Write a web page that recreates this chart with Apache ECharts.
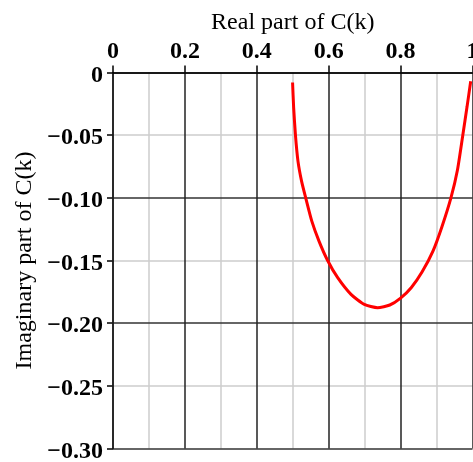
<!DOCTYPE html>
<html>
<head>
<meta charset="utf-8">
<script src="https://cdn.jsdelivr.net/npm/echarts@6/dist/echarts.min.js"></script>
<style>
html,body{margin:0;padding:0;background:#fff;}
#chart{width:473px;height:462px;}
</style>
</head>
<body>
<div id="chart"></div>
<script>
var realPart = [0.4995, 0.5025, 0.5075, 0.5145, 0.5245, 0.536, 0.553, 0.573, 0.597, 0.625, 0.662, 0.699, 0.736, 0.770, 0.800, 0.830, 0.860, 0.890, 0.915, 0.940, 0.958, 0.973, 0.985, 0.995];
var imagPart = [-0.008, -0.028, -0.050, -0.0707, -0.0867, -0.100, -0.1186, -0.1345, -0.150, -0.1637, -0.177, -0.185, -0.1876, -0.1855, -0.180, -0.1715, -0.159, -0.1425, -0.123, -0.100, -0.078, -0.050, -0.027, -0.007];
var xTickValues = [0, 0.2, 0.4, 0.6, 0.8, 1];
var xTickLabels = ['0', '0.2', '0.4', '0.6', '0.8', '1'];
var yTickValues = [0, -0.05, -0.10, -0.15, -0.20, -0.25, -0.30];
var yTickLabels = ['0', '\u22120.05', '\u22120.10', '\u22120.15', '\u22120.20', '\u22120.25', '\u22120.30'];

function lookup(values, labels, v) {
  for (var i = 0; i < values.length; i++) {
    if (Math.abs(values[i] - v) < 1e-6) return labels[i];
  }
  return '';
}

var seriesData = realPart.map(function (x, i) { return [x, imagPart[i]]; });

var chart = echarts.init(document.getElementById('chart'), null, {renderer: 'canvas'});
var serif = '"Liberation Serif", "Times New Roman", serif';
chart.setOption({
  animation: false,
  backgroundColor: '#fff',
  grid: {left: 113, top: 72.5, width: 359.5, height: 376, containLabel: false, outerBoundsMode: 'none'},
  xAxis: [{
    type: 'value', position: 'top', min: 0, max: 1, interval: 0.2, offset: 4,
    name: 'Real part of C(k)', nameLocation: 'middle', nameGap: 32,
    nameTextStyle: {fontFamily: serif, fontSize: 24, color: '#000'},
    axisLine: {show: true, lineStyle: {color: '#000', width: 1.5}},
    axisTick: {show: true, inside: false, length: 7, lineStyle: {color: '#000', width: 1.5}},
    axisLabel: {show: true, margin: 5, fontFamily: serif, fontSize: 24, fontWeight: 'bold', color: '#000',
      formatter: function (v) { return lookup(xTickValues, xTickLabels, v); }},
    splitLine: {show: true, lineStyle: {color: '#222', width: 1.5}},
    z: 3
  }, {
    type: 'value', position: 'top', min: 0, max: 1, interval: 0.1,
    axisLine: {show: false}, axisTick: {show: false}, axisLabel: {show: false},
    splitLine: {show: true, lineStyle: {color: ['rgba(0,0,0,0)', '#cccccc'], width: 1.5}},
    z: 1
  }],
  yAxis: [{
    type: 'value', min: -0.30, max: 0, interval: 0.05,
    name: 'Imaginary part of C(k)', nameLocation: 'middle', nameGap: 71,
    nameTextStyle: {fontFamily: serif, fontSize: 24, color: '#000'},
    axisLine: {show: true, lineStyle: {color: '#000', width: 1.5}},
    axisTick: {show: true, inside: false, length: 6, lineStyle: {color: '#000', width: 1.5}},
    axisLabel: {show: true, margin: 10, verticalAlign: 'top', padding: [-9, 0, 0, 0], fontFamily: serif, fontSize: 24, fontWeight: 'bold', color: '#000',
      formatter: function (v) { return lookup(yTickValues, yTickLabels, v); }},
    splitLine: {show: true, lineStyle: {color: ['#333', '#cccccc'], width: 1.5}},
    z: 2
  }],
  series: [{
    type: 'line', xAxisIndex: 0, yAxisIndex: 0,
    data: seriesData, showSymbol: false, smooth: 0.2,
    lineStyle: {color: '#ff0000', width: 3},
    z: 5
  }]
});
</script>
</body>
</html>
